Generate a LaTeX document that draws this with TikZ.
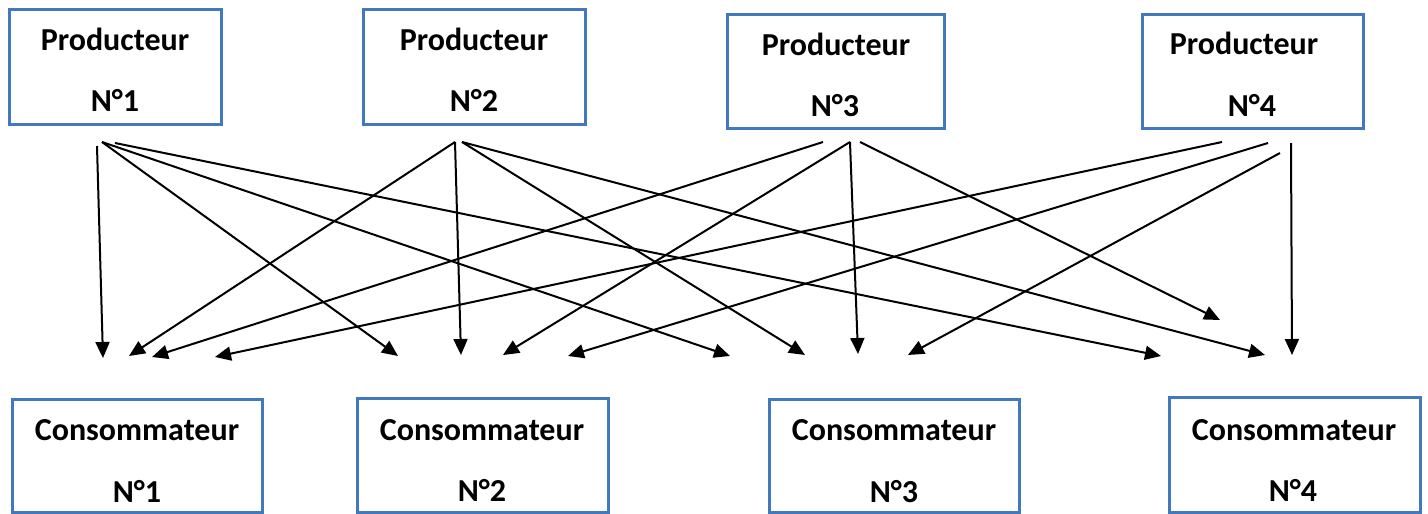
\documentclass[tikz,border=0pt]{standalone}
\usepackage{fontspec}
\setmainfont{Carlito}
\usetikzlibrary{arrows.meta}
\definecolor{boxblue}{HTML}{4178BE}
\tikzset{
  boxnode/.style={draw=boxblue, line width=3pt, rectangle, inner sep=0pt},
  lbl/.style={anchor=base, inner sep=0pt, font=\fontsize{32}{38}\selectfont\bfseries},
  flow/.style={line width=2pt, -{Triangle[length=16pt,width=14pt]}}
}
\begin{document}
\begin{tikzpicture}[x=1pt,y=-1pt]
\useasboundingbox (0,0) rectangle (1428,514);
% producer boxes
\node[boxnode, minimum width=212pt, minimum height=115pt] (P1) at (115,66.5) {};
\node[boxnode, minimum width=222pt, minimum height=115pt] (P2) at (474,66.5) {};
\node[boxnode, minimum width=217pt, minimum height=114pt] (P3) at (835.5,71) {};
\node[boxnode, minimum width=221pt, minimum height=114pt] (P4) at (1252.5,71) {};
% consumer boxes
\node[boxnode, minimum width=250pt, minimum height=113pt] (C1) at (137,455.5) {};
\node[boxnode, minimum width=251pt, minimum height=114pt] (C2) at (482.5,455) {};
\node[boxnode, minimum width=250pt, minimum height=113pt] (C3) at (894,455.5) {};
\node[boxnode, minimum width=251pt, minimum height=115pt] (C4) at (1294.5,454.5) {};
% labels
\node[lbl] (P1a) at (115,50) {Producteur};
\node[lbl] (P1b) at (115,111) {N°1};
\node[lbl] (P2a) at (474,50) {Producteur};
\node[lbl] (P2b) at (474,111) {N°2};
\node[lbl] (P3a) at (836,55) {Producteur};
\node[lbl] (P3b) at (835,116) {N°3};
\node[lbl] (P4a) at (1244,54) {Producteur};
\node[lbl] (P4b) at (1252,116) {N°4};
\node[lbl] (C1a) at (137,440) {Consommateur};
\node[lbl] (C1b) at (137,502) {N°1};
\node[lbl] (C2a) at (482,440) {Consommateur};
\node[lbl] (C2b) at (482,501) {N°2};
\node[lbl] (C3a) at (894,440) {Consommateur};
\node[lbl] (C3b) at (894,502) {N°3};
\node[lbl] (C4a) at (1294,440) {Consommateur};
\node[lbl] (C4b) at (1293,501) {N°4};
% start points
\coordinate (s1v) at (97,146);
\coordinate (s1a) at (102,142);
\coordinate (s1b) at (115,143);
\coordinate (s2a) at (455,142);
\coordinate (s2b) at (462,142);
\coordinate (s3a) at (823,142);
\coordinate (s3b) at (850,142);
\coordinate (s3c) at (860,142);
\coordinate (s4a) at (1222,142);
\coordinate (s4b) at (1268,143);
\coordinate (s4c) at (1280,153);
\coordinate (s4v) at (1291,143);
% end points
\coordinate (e11) at (103,358);
\coordinate (e12) at (398,356);
\coordinate (e13) at (730,356);
\coordinate (e14) at (1161,356);
\coordinate (e21) at (129,356);
\coordinate (e22) at (461,355);
\coordinate (e23) at (805,355);
\coordinate (e24) at (1265,355);
\coordinate (e31) at (152,357);
\coordinate (e32) at (503,355);
\coordinate (e33) at (858,354);
\coordinate (e34) at (1220,320);
\coordinate (e41) at (215,357);
\coordinate (e42) at (568,356);
\coordinate (e43) at (908,355);
\coordinate (e44) at (1292,355);
% arrows
\draw[flow] (s1v) -- (e11);
\draw[flow] (s1a) -- (e12);
\draw[flow] (s1a) -- (e13);
\draw[flow] (s1b) -- (e14);
\draw[flow] (s2a) -- (e21);
\draw[flow] (s2a) -- (e22);
\draw[flow] (s2b) -- (e23);
\draw[flow] (s2b) -- (e24);
\draw[flow] (s3a) -- (e31);
\draw[flow] (s3b) -- (e32);
\draw[flow] (s3b) -- (e33);
\draw[flow] (s3c) -- (e34);
\draw[flow] (s4a) -- (e41);
\draw[flow] (s4b) -- (e42);
\draw[flow] (s4c) -- (e43);
\draw[flow] (s4v) -- (e44);
\end{tikzpicture}
\end{document}
